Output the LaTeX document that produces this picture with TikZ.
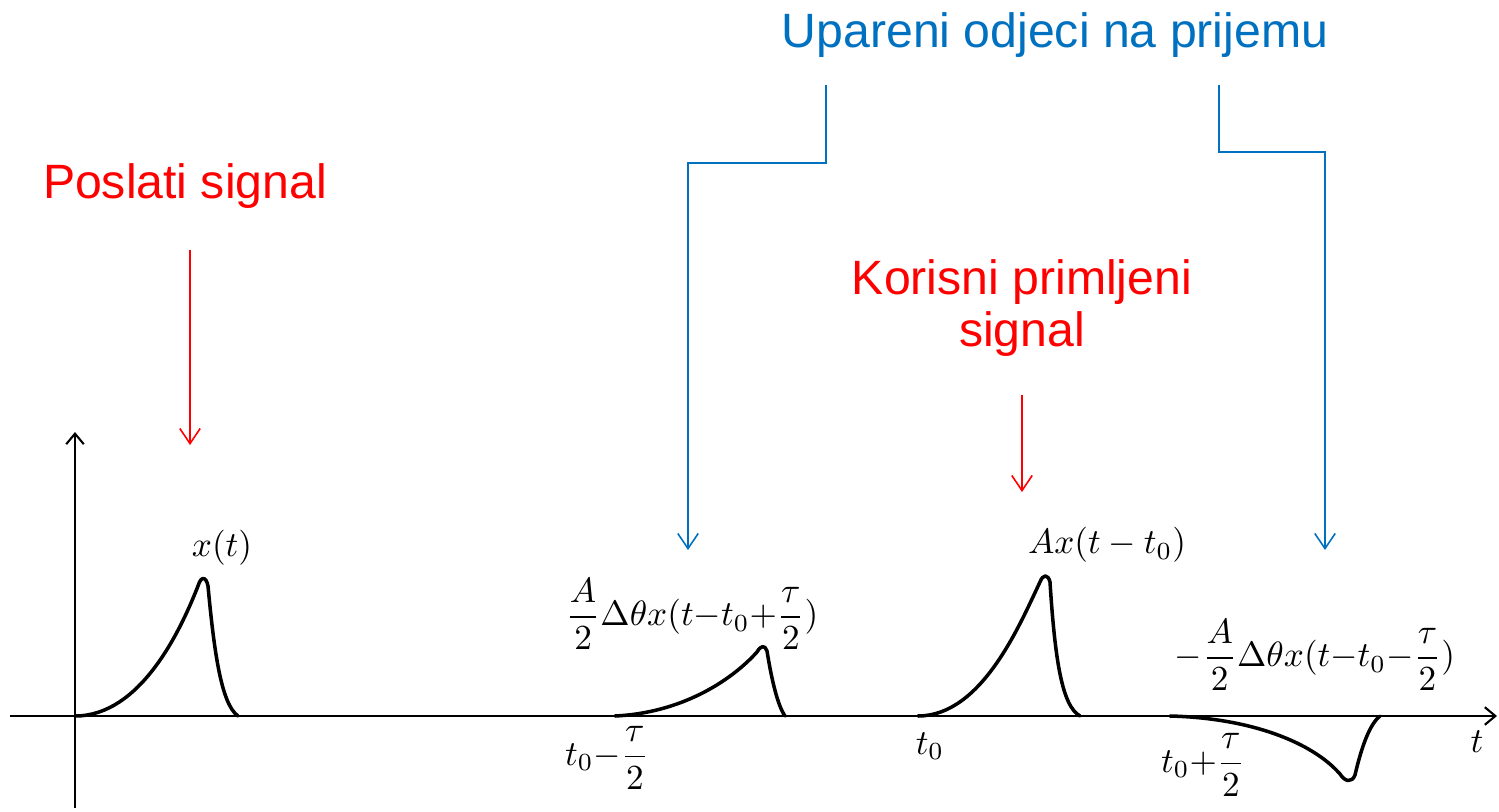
\documentclass[tikz,border=0pt]{standalone}
\usepackage{amsmath,amssymb}
\usepackage{fontspec}
\setmainfont{Liberation Sans}
\usepackage{xcolor}
\usetikzlibrary{arrows.meta,calc}
\definecolor{SigRed}{HTML}{FF0000}
\definecolor{EchoBlue}{HTML}{0070C0}
\tikzset{
  axis/.style={line width=0.6pt,-{Straight Barb[length=3pt,width=5pt]}},
  sig/.style={line width=1pt,line cap=round,line join=round},
  callred/.style={text=SigRed,font=\fontsize{13.7}{15}\selectfont,align=center,inner sep=0pt},
  callblue/.style={text=EchoBlue,font=\fontsize{13.7}{15}\selectfont,inner sep=0pt},
  redarr/.style={draw=SigRed,line width=0.45pt,-{Straight Barb[length=4.3pt,width=5.8pt]}},
  bluearr/.style={draw=EchoBlue,line width=0.45pt,-{Straight Barb[length=4.3pt,width=5.8pt]}},
  lab/.style={inner sep=0pt},
}

\begin{document}
\begin{tikzpicture}[x=0.01cm,y=-0.01cm]
\useasboundingbox (0,0) rectangle (1499,812);

% axes
\coordinate (o) at (75,716);
\draw[axis] (10,716) -- (1497,716);
\draw[axis] (75,808) -- (75,432);

% pulses
\draw[sig] (o) .. controls (140,716) and (180,632) .. (198,586)
  .. controls (201,576) and (206,576) .. (208,586)
  .. controls (214,650) and (221,704) .. (238,716);
\draw[sig] (615,716) .. controls (680,713) and (730,682) .. (757,652)
  .. controls (761,645) and (765,645) .. (767,651)
  .. controls (772,682) and (778,706) .. (785,716);
\draw[sig] (918,716) .. controls (982,716) and (1020,624) .. (1040,582)
  .. controls (1043,574) and (1048,574) .. (1050,582)
  .. controls (1055,660) and (1062,706) .. (1080,716);
\draw[sig] (1170,716) .. controls (1250,718) and (1312,742) .. (1340,774)
  .. controls (1345,782) and (1352,783) .. (1355,775)
  .. controls (1362,745) and (1370,724) .. (1380,716);

% signal labels
\node[lab] (xt) at (222,548) {$x(t)$};
\node[lab] (echoA) at (692,614) {$\dfrac{A}{2}\Delta\theta x(t{-}t_0{+}\dfrac{\tau}{2})$};
\node[lab] (axt) at (1107,545) {$Ax(t-t_0)$};
\node[lab] (echoB) at (1315,655) {${-}\dfrac{A}{2}\Delta\theta x(t{-}t_0{-}\dfrac{\tau}{2})$};

% time marks
\node[lab] (tm) at (607,758) {$t_0{-}\dfrac{\tau}{2}$};
\node[lab] (t0) at (930,746) {$t_0$};
\node[lab] (tp) at (1203,765) {$t_0{+}\dfrac{\tau}{2}$};
\node[lab] (tt) at (1477,742) {$t$};

% callouts
\node[callred] (sent) at (185,186) {Poslati signal};
\node[callred] (useful) at (1022,308) {Korisni primljeni\\signal};
\node[callblue] (echoes) at (1055,35) {Upareni odjeci na prijemu};

\coordinate (s1) at (190,250);
\coordinate (s2) at (190,445);
\coordinate (k1) at (1022,395);
\coordinate (k2) at (1022,492);
\coordinate (u1) at (826,85);
\coordinate (u2) at (688,550);
\coordinate (v1) at (1219,85);
\coordinate (v2) at (1325,550);

\draw[redarr] (s1) -- (s2);
\draw[redarr] (k1) -- (k2);
\draw[bluearr] (u1) -- (826,163) -| (u2);
\draw[bluearr] (v1) -- (1219,152) -| (v2);

\end{tikzpicture}
\end{document}
